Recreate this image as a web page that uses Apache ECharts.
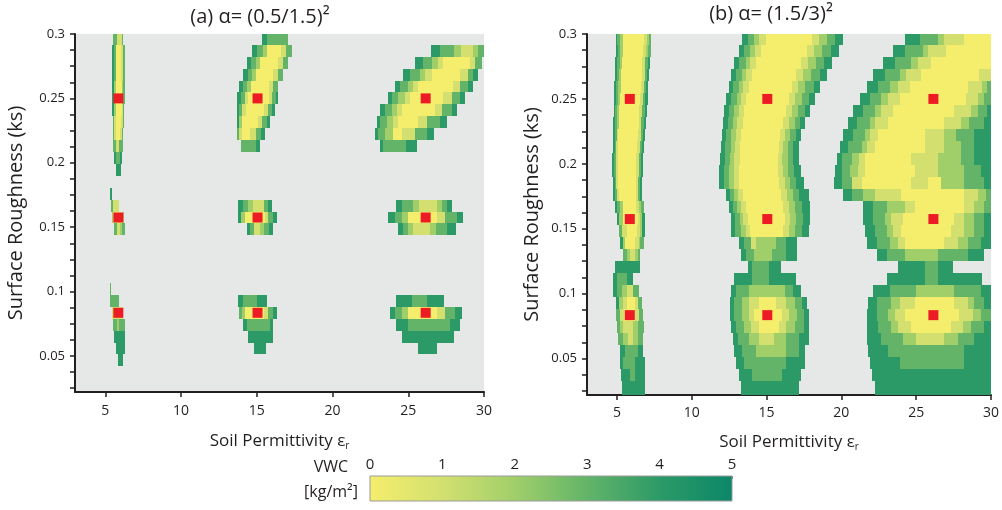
<!DOCTYPE html>
<html>
<head>
<meta charset="utf-8">
<script src="https://cdn.jsdelivr.net/npm/echarts@6/dist/echarts.min.js"></script>
<style>
  html, body { margin: 0; padding: 0; background: #ffffff; }
  #chart { width: 1002px; height: 510px; }
</style>
</head>
<body>
<div id="chart"></div>
<script>
// Row centres of the retrieval grid (surface roughness ks) and the row height.
const ROW_KS = [0.29625, 0.287, 0.27775, 0.2685, 0.25925, 0.25, 0.24075, 0.2315, 0.22225, 0.213,
  0.20375, 0.1945, 0.18525, 0.176, 0.16675, 0.1575, 0.14825, 0.139, 0.12975, 0.1205,
  0.11125, 0.102, 0.09275, 0.0835, 0.07425, 0.065, 0.05575, 0.0465, 0.03725, 0.028, 0.01875];
const ROW_HEIGHT = 0.00925;

// Each row: "eps:VWC" break points, read left to right; "-" marks no retrieval.
const PANEL_A_ROWS = [
  "5.53:3 5.75:1 6.08:3 6.19:- 15.32:4 15.67:3 17.08:-",
  "5.47:4 5.6:3 5.71:0 6.05:1 6.15:3 6.27:- 14.70:4 15.03:3 15.4:2 15.7:0 16.6:1 16.9:3 17.30:- 26.50:4 27.1:3 28.0:2 28.5:1 29.3:2 29.6:3 30:-",
  "5.47:4 5.6:3 5.71:0 6.05:1 6.15:3 6.27:- 14.33:4 14.65:3 14.95:2 15.2:0 16.4:1 16.7:3 17.08:- 25.44:4 26.0:3 26.54:2 26.98:1 27.31:0 29.07:1 29.4:3 29.84:-",
  "5.47:4 5.6:3 5.71:0 6.05:1 6.15:3 6.27:- 14.11:4 14.4:3 14.7:2 14.95:0 16.1:1 16.4:3 16.75:- 24.67:4 25.11:3 25.77:2 26.1:1 26.54:0 28.41:1 28.96:3 29.29:4 29.62:-",
  "5.47:4 5.6:2 5.71:0 6.08:2 6.19:3 6.27:- 13.85:4 14.1:3 14.35:2 14.6:0 15.8:1 16.1:3 16.42:- 24.12:4 24.45:3 25.0:2 25.33:1 25.66:0 27.97:1 28.41:3 28.96:4 29.29:-",
  "5.47:4 5.57:2 5.68:0 6.1:2 6.2:3 6.27:- 13.71:4 13.95:3 14.2:1 14.4:0 15.8:1 16.0:3 16.25:4 16.42:- 23.64:4 23.9:3 24.34:2 24.78:1 25.11:0 27.31:1 27.86:3 28.41:4 28.74:-",
  "5.47:4 5.57:2 5.68:0 6.08:1 6.17:3 6.25:- 13.67:4 13.85:3 14.05:1 14.3:0 15.5:1 15.75:3 16.0:4 16.2:- 23.13:4 23.46:3 23.9:2 24.23:1 24.56:0 26.76:1 27.2:3 27.86:4 28.19:-",
  "5.49:3 5.6:1 5.71:0 6.05:1 6.15:3 6.22:- 13.67:4 13.82:2 14.0:0 15.1:1 15.35:3 15.65:4 15.87:- 22.91:4 23.13:3 23.57:2 24.01:1 24.34:0 25.66:1 26.21:3 27.09:4 27.58:-",
  "5.49:3 5.6:1 5.71:0 6.0:1 6.1:3 6.2:- 13.67:3 13.82:1 14.0:0 14.55:1 14.95:3 15.3:4 15.54:- 22.80:4 23.0:3 23.46:2 24.01:0 24.56:1 25.44:3 26.21:4 26.69:-",
  "5.53:3 5.71:1 5.93:3 6.15:- 13.94:3 14.95:4 15.2:- 23.13:4 23.3:3 24.85:4 25.55:-",
  "5.60:4 5.68:3 5.97:4 6.08:-",
  "5.71:4 6.01:-",
  "",
  "5.31:4 5.42:-",
  "5.38:3 5.53:1 5.93:- 13.74:4 14.11:3 14.45:2 14.75:1 15.45:3 15.75:4 15.98:- 24.19:4 24.6:3 25.33:2 25.7:1 26.9:2 27.2:3 27.53:4 27.86:-",
  "5.46:2 5.53:0 6.15:2 6.22:- 13.78:4 13.95:2 14.2:0 15.55:1 15.75:3 16.05:4 16.31:- 23.68:4 24.1:3 24.56:2 25.0:0 26.9:1 27.4:3 28.19:4 28.59:-",
  "5.6:3 5.75:1 5.95:2 6.08:3 6.3:- 14.33:4 14.55:3 14.8:1 15.2:2 15.45:3 15.8:4 16.1:- 24.34:4 24.67:3 25.0:2 25.33:1 26.43:2 26.8:3 27.53:4 28.15:-",
  "", "", "", "",
  "5.33:3 5.40:-",
  "5.29:3 5.93:- 13.74:4 14.11:3 14.99:4 15.65:- 24.19:4 25.22:3 26.21:4 27.35:-",
  "5.46:1 6.19:- 13.85:3 14.0:2 14.2:0 15.5:1 15.75:3 16.05:4 16.31:- 23.79:4 24.1:3 24.56:2 25.0:0 26.9:1 27.4:3 28.1:4 28.52:-",
  "5.53:3 5.75:2 5.9:3 6.3:- 14.11:4 14.35:3 15.85:4 16.1:- 24.19:4 25.0:3 27.75:4 28.41:-",
  "5.6:4 6.3:- 14.4:4 16.05:- 24.56:4 28.0:-",
  "5.68:4 6.3:- 14.81:4 15.58:- 25.62:4 26.87:-",
  "5.87:4 6.19:-",
  "", "", ""
];

const PANEL_B_ROWS = [
  "4.94:4 5.03:3 5.2:2 5.4:0 6.8:1 7.0:2 7.15:3 7.31:- 13.39:4 13.73:3 14.17:2 14.50:1 14.94:0 18.04:1 18.48:2 19.03:3 19.59:4 20.14:- 24.23:4 25.23:3 26.44:2 26.89:1 28.22:0 30.5:-",
  "4.94:4 5.05:3 5.2:2 5.4:0 6.75:1 6.95:2 7.1:3 7.27:- 13.13:4 13.46:3 13.9:2 14.2:1 14.6:0 17.7:1 18.15:2 18.7:3 19.3:4 19.81:- 23.46:4 24.23:3 25.45:2 25.78:1 27.0:0 30.5:-",
  "4.90:4 5.02:3 5.18:2 5.35:0 6.7:1 6.9:3 7.05:4 7.20:- 12.84:4 13.17:3 13.6:2 13.9:1 14.3:0 17.3:1 17.75:2 18.3:3 18.85:4 19.37:- 22.8:4 23.57:3 24.68:2 25.12:1 26.0:0 30.5:-",
  "4.86:4 5.0:3 5.15:2 5.3:0 6.65:1 6.85:3 7.0:4 7.16:- 12.62:4 12.95:3 13.35:2 13.65:1 14.05:0 17.0:1 17.45:2 18.0:3 18.55:4 19.03:- 22.13:4 22.9:3 23.9:2 24.34:1 25.34:0 29.21:1 30.5:-",
  "4.83:4 4.95:3 5.1:2 5.25:0 6.6:1 6.8:3 6.95:4 7.09:- 12.46:4 12.75:3 13.15:2 13.45:1 13.85:0 16.7:1 17.1:2 17.6:3 18.15:4 18.59:- 21.69:4 22.46:3 23.24:2 23.79:1 24.56:0 28.44:1 29.43:2 29.76:3 30.5:-",
  "4.81:4 4.92:3 5.05:2 5.2:0 6.55:1 6.75:3 6.9:4 7.05:- 12.29:4 12.6:3 13.0:2 13.3:1 13.65:0 16.5:1 16.9:2 17.35:3 17.85:4 18.26:- 21.25:4 21.91:3 22.68:2 23.13:1 23.9:0 28.33:1 29.1:2 29.54:3 30.5:-",
  "4.79:4 4.9:3 5.02:2 5.15:0 6.5:1 6.7:3 6.85:4 6.98:- 12.18:4 12.5:3 12.85:2 13.15:1 13.5:0 16.3:1 16.7:2 17.1:3 17.55:4 17.93:- 20.8:4 21.47:3 22.24:2 22.68:1 23.46:0 27.55:1 28.66:2 29.1:3 29.76:4 30.5:-",
  "4.77:4 4.88:3 5.0:2 5.12:0 6.45:1 6.62:3 6.78:4 6.93:- 12.07:4 12.4:3 12.75:2 13.05:1 13.4:0 16.1:1 16.5:2 16.9:3 17.25:4 17.60:- 20.47:4 21.03:3 21.91:2 22.24:1 23.13:0 26.89:1 27.99:2 28.55:3 29.54:4 30.5:-",
  "4.75:4 4.86:3 4.98:1 5.1:0 6.4:1 6.58:3 6.72:4 6.87:- 12.0:4 12.3:3 12.65:2 12.95:1 13.3:0 15.9:1 16.25:2 16.6:3 16.95:4 17.27:- 20.14:4 20.8:3 21.58:2 21.91:1 22.46:0 25.56:1 26.89:2 27.66:3 28.88:4 30.5:-",
  "4.72:4 4.84:3 4.96:1 5.08:0 6.35:1 6.52:3 6.66:4 6.80:- 11.96:4 12.25:3 12.6:2 12.9:1 13.25:0 15.8:1 16.1:2 16.45:3 16.8:4 17.15:- 19.92:4 20.47:3 21.36:2 21.69:1 22.24:0 25.56:1 26.89:2 27.99:3 28.88:4 30.5:-",
  "4.70:4 4.82:3 4.95:1 5.06:0 6.3:1 6.48:3 6.62:4 6.76:- 11.90:4 12.2:3 12.55:2 12.85:1 13.2:0 15.75:1 16.05:2 16.4:3 16.8:4 17.15:- 19.7:4 20.03:3 20.69:2 21.2:1 21.58:0 24.68:1 26.44:2 27.99:3 28.88:4 30.5:-",
  "4.70:4 4.82:3 4.95:1 5.06:0 6.28:1 6.45:3 6.58:4 6.72:- 11.85:4 12.15:3 12.5:2 12.8:1 13.15:0 15.75:1 16.1:2 16.45:3 16.85:4 17.27:- 19.59:4 20.03:3 20.58:2 21.1:1 21.58:0 24.9:1 26.44:2 28.22:3 29.32:4 30.5:-",
  "4.72:4 4.84:3 4.96:1 5.08:0 6.25:1 6.42:3 6.55:4 6.69:- 11.85:4 12.15:3 12.5:2 12.8:1 13.15:0 15.8:1 16.2:2 16.55:3 17.0:4 17.5:- 19.48:4 20.03:3 20.69:1 21.36:0 24.68:1 25.78:0 26.67:2 28.22:3 29.54:4 30.5:-",
  "4.77:4 4.88:3 5.0:1 5.12:0 6.25:1 6.42:3 6.55:4 6.67:- 12.29:4 12.55:3 12.85:2 13.1:1 13.4:0 15.95:1 16.35:2 16.75:3 17.2:4 17.82:- 20.14:4 20.69:3 21.47:2 22.24:1 24.01:0 28.22:1 29.1:2 29.65:3 30.5:-",
  "4.88:4 4.98:3 5.2:2 5.4:0 6.25:1 6.45:2 6.6:3 6.8:- 12.46:4 12.75:3 13.05:2 13.3:1 13.6:0 16.1:1 16.5:2 16.9:3 17.4:4 17.93:- 21.47:4 22.13:3 23.02:2 24.23:1 24.9:0 28.22:1 28.88:2 29.54:3 30.5:-",
  "4.99:4 5.16:2 5.43:0 6.43:1 6.54:2 6.65:4 6.87:- 12.62:4 12.9:3 13.2:2 13.45:1 13.75:0 16.2:1 16.6:2 17.0:3 17.45:4 17.93:- 21.47:4 22.13:3 22.9:2 23.35:1 24.12:0 27.55:1 28.22:2 28.88:3 29.54:4 30.5:-",
  "5.16:3 5.32:1 5.65:0 6.32:1 6.54:2 6.65:4 6.87:- 12.62:4 12.9:3 13.3:2 13.6:1 13.9:0 16.1:1 16.5:2 16.9:3 17.4:4 17.82:- 21.58:4 22.24:3 23.02:2 23.46:1 24.01:0 27.33:1 28.22:2 28.88:3 29.54:4 30.5:-",
  "5.21:4 5.39:2 5.54:0 6.2:1 6.49:2 6.54:3 6.80:- 13.17:4 13.5:3 13.95:1 14.3:2 15.6:3 16.3:4 17.04:- 21.69:4 22.35:3 23.24:2 23.79:1 24.23:0 26.89:1 27.77:2 28.44:3 29.32:4 30.5:-",
  "5.43:3 5.65:2 5.87:1 6.2:2 6.43:3 6.54:- 13.28:4 13.62:3 14.17:2 15.38:3 16.27:4 17.04:- 22.35:4 23.02:3 24.23:2 26.44:3 28.44:4 29.54:-",
  "4.88:4 6.54:- 13.73:4 14.06:3 15.16:4 15.94:- 23.79:4 25.56:3 26.44:4 27.44:-",
  "4.77:4 4.99:3 5.65:4 6.09:- 12.85:4 14.06:3 15.16:4 17.0:- 23.02:4 25.56:3 26.44:4 29.4:-",
  "4.77:4 4.99:3 5.32:2 5.65:1 6.09:3 6.49:- 12.62:4 12.95:3 13.84:2 16.2:3 16.75:4 17.33:- 22.13:4 23.24:3 25.01:2 27.55:3 29.32:4 30.5:-",
  "4.94:4 5.16:2 5.39:1 5.65:0 6.2:1 6.43:3 6.65:- 12.55:4 12.84:3 13.39:2 13.84:1 14.5:0 15.61:1 16.27:2 16.93:3 17.38:4 17.71:- 21.8:4 22.35:3 23.35:2 23.9:1 24.9:0 27.55:1 28.44:2 28.88:3 29.54:4 30.5:-",
  "4.94:3 5.21:1 5.5:0 6.2:1 6.49:3 6.76:- 12.55:4 12.84:3 13.39:2 13.84:1 14.17:0 16.05:1 16.49:2 17.04:3 17.49:4 17.82:- 21.69:4 22.35:3 23.13:2 23.57:1 24.23:0 27.88:1 28.77:2 29.32:3 30.5:-",
  "5.03:3 5.21:2 5.43:1 6.09:2 6.43:3 6.80:- 12.62:4 12.95:3 13.5:2 13.95:1 14.5:0 15.83:1 16.27:2 16.93:3 17.49:4 17.82:- 21.69:4 22.46:3 23.35:2 23.79:1 24.68:0 27.33:1 28.11:2 28.66:3 29.54:4 30.5:-",
  "5.10:3 5.43:2 5.76:1 6.09:2 6.43:3 6.76:- 12.73:4 13.06:3 13.8:2 14.5:1 15.5:2 16.27:3 17.15:4 17.82:- 21.69:4 22.68:3 24.12:2 25.01:1 26.89:2 27.77:3 28.88:4 30.5:-",
  "5.21:4 5.54:3 6.43:4 6.76:- 12.84:4 13.39:3 14.28:2 16.27:3 17.15:4 17.60:- 21.8:4 23.13:3 28.22:4 30.5:-",
  "5.21:4 5.43:3 6.2:4 6.87:- 12.95:4 13.5:3 16.27:4 17.60:- 21.91:4 23.9:3 28.22:4 30.5:-",
  "5.25:4 5.87:3 6.2:4 6.87:- 13.17:4 14.06:3 16.05:4 17.27:- 22.02:4 30.5:-",
  "5.32:4 6.87:- 13.28:4 17.20:- 22.24:4 30.5:-",
  "5.32:4 6.87:- 13.28:4 17.20:- 22.24:4 30.5:-"
];

// True soil states (red markers): permittivity and roughness.
const TARGET_EPS = [5.86, 15.05, 26.15];
const TARGET_KS = [0.25, 0.1575, 0.0835];

// Axis ticks and labels.
const X_TICKS = [5, 10, 15, 20, 25, 30];
const Y_LABELS = [0.05, 0.1, 0.15, 0.2, 0.25, 0.3];
const Y_TICKS = [0.025, 0.0375, 0.05, 0.0625, 0.075, 0.0875, 0.1, 0.1125, 0.125, 0.1375, 0.15,
  0.1625, 0.175, 0.1875, 0.2, 0.2125, 0.225, 0.2375, 0.25, 0.2625, 0.275, 0.2875, 0.3];
const VWC_TICKS = [0, 1, 2, 3, 4, 5];
const VWC_COLORS = ['#f4ee6c', '#d3e070', '#a0cf6a', '#63b469', '#2c9a67', '#0b8768'];

const TITLES = ['(a) α= (0.5/1.5)²', '(b) α= (1.5/3)²'];
const X_NAME = 'Soil Permittivity ε{sub|r}';
const Y_NAME = 'Surface Roughness (ks)';

const FONT = "'Open Sans', 'Noto Sans', sans-serif";
const INK = '#231f20';

function parseRows(rows) {
  const cells = [];
  rows.forEach((row, i) => {
    if (!row) return;
    const toks = row.trim().split(/\s+/).map(t => t.split(':'));
    for (let k = 0; k < toks.length - 1; k++) {
      if (toks[k][1] === '-') continue;
      cells.push([+toks[k][0], +toks[k + 1][0], ROW_KS[i], +toks[k][1]]);
    }
  });
  return cells;
}

function renderCell(params, api) {
  const ks = api.value(2);
  const p0 = api.coord([api.value(0), ks + ROW_HEIGHT / 2]);
  const p1 = api.coord([api.value(1), ks - ROW_HEIGHT / 2]);
  const x0 = Math.round(p0[0]), x1 = Math.round(p1[0]);
  const y0 = Math.round(p0[1]), y1 = Math.round(p1[1]);
  const cs = params.coordSys;
  const shape = echarts.graphic.clipRectByRect(
    { x: x0, y: y0, width: x1 - x0, height: y1 - y0 },
    { x: cs.x, y: cs.y, width: cs.width, height: cs.height });
  if (!shape) return null;
  return { type: 'rect', shape: shape, style: { fill: api.visual('color') } };
}

function renderColorbar(params, api) {
  const p0 = api.coord([api.value(0), 1]);
  const p1 = api.coord([api.value(1), 0]);
  const stops = VWC_COLORS.map((c, i) => ({ offset: i / (VWC_COLORS.length - 1), color: c }));
  return {
    type: 'rect',
    shape: { x: p0[0], y: p0[1], width: p1[0] - p0[0], height: p1[1] - p0[1] },
    style: {
      fill: new echarts.graphic.LinearGradient(0, 0, 1, 0, stops),
      stroke: '#9b9b9b', lineWidth: 1
    }
  };
}

const targets = [];
TARGET_KS.forEach(k => TARGET_EPS.forEach(e => targets.push([e, k])));

const grids = [
  { left: 75, top: 34, width: 409, height: 358 },
  { left: 587, top: 34, width: 406, height: 361 }
];

function xAxisFor(i, gap, margin) {
  return {
    gridIndex: i, type: 'value', min: 3, max: 30,
    name: X_NAME, nameLocation: 'middle', nameGap: gap,
    nameTextStyle: {
      fontFamily: FONT, fontSize: 17, color: INK,
      rich: { sub: { fontFamily: FONT, fontSize: 10, color: INK, verticalAlign: 'bottom', padding: [10, 0, 0, 0] } }
    },
    axisLine: { onZero: false, lineStyle: { color: INK, width: 2 } },
    axisTick: { length: 5, lineStyle: { color: INK, width: 1.5 }, customValues: X_TICKS },
    axisLabel: { fontFamily: FONT, fontSize: 14, color: INK, margin: margin, customValues: X_TICKS },
    splitLine: { show: false }
  };
}

function yAxisFor(i, gap) {
  return {
    gridIndex: i, type: 'value', min: 0.022, max: 0.3,
    name: Y_NAME, nameLocation: 'middle', nameGap: gap, nameRotate: 90,
    nameTextStyle: { fontFamily: FONT, fontSize: 20, color: INK },
    axisLine: { onZero: false, lineStyle: { color: INK, width: 2 } },
    axisTick: { length: 5, lineStyle: { color: INK, width: 1.5 }, customValues: Y_TICKS },
    axisLabel: { fontFamily: FONT, fontSize: 13, color: INK, margin: 10, customValues: Y_LABELS },
    splitLine: { show: false }
  };
}

const option = {
  animation: false,
  backgroundColor: '#ffffff',
  grid: [
    Object.assign({ show: true, backgroundColor: '#e6e7e7', borderWidth: 0 }, grids[0]),
    Object.assign({ show: true, backgroundColor: '#e6e7e7', borderWidth: 0 }, grids[1]),
    { left: 370, top: 476, width: 362, height: 25 }
  ],
  xAxis: [
    xAxisFor(0, 39, 12),
    xAxisFor(1, 37, 11),
    {
      gridIndex: 2, type: 'value', min: 0, max: 5, position: 'top',
      axisLine: { show: false, onZero: false },
      axisTick: { inside: true, length: 3, lineStyle: { color: '#666' }, customValues: VWC_TICKS },
      axisLabel: { fontFamily: FONT, fontSize: 15, color: INK, margin: 4, customValues: VWC_TICKS },
      splitLine: { show: false }
    }
  ],
  yAxis: [
    yAxisFor(0, 49),
    yAxisFor(1, 45),
    { gridIndex: 2, type: 'value', min: 0, max: 1, show: false }
  ],
  visualMap: {
    type: 'continuous', show: false, min: 0, max: 5, dimension: 3,
    seriesIndex: [0, 1], inRange: { color: VWC_COLORS }
  },
  graphic: [
    { type: 'text', x: 260, y: 17, style: { text: TITLES[0], font: '20px ' + FONT, fill: INK, textAlign: 'center', textVerticalAlign: 'middle' } },
    { type: 'text', x: 771, y: 14, style: { text: TITLES[1], font: '20px ' + FONT, fill: INK, textAlign: 'center', textVerticalAlign: 'middle' } },
    { type: 'text', x: 331, y: 467, style: { text: 'VWC', font: '16px ' + FONT, fill: INK, textAlign: 'center', textVerticalAlign: 'middle' } },
    { type: 'text', x: 331, y: 492, style: { text: '[kg/m²]', font: '16px ' + FONT, fill: INK, textAlign: 'center', textVerticalAlign: 'middle' } }
  ],
  series: [
    { type: 'custom', xAxisIndex: 0, yAxisIndex: 0, renderItem: renderCell, data: parseRows(PANEL_A_ROWS), encode: { x: [0, 1], y: 2 }, clip: true, silent: true },
    { type: 'custom', xAxisIndex: 1, yAxisIndex: 1, renderItem: renderCell, data: parseRows(PANEL_B_ROWS), encode: { x: [0, 1], y: 2 }, clip: true, silent: true },
    { type: 'scatter', xAxisIndex: 0, yAxisIndex: 0, symbol: 'rect', symbolSize: 10, itemStyle: { color: '#ed1c24', opacity: 1 }, data: targets, z: 5, silent: true },
    { type: 'scatter', xAxisIndex: 1, yAxisIndex: 1, symbol: 'rect', symbolSize: 10, itemStyle: { color: '#ed1c24', opacity: 1 }, data: targets, z: 5, silent: true },
    { type: 'custom', xAxisIndex: 2, yAxisIndex: 2, renderItem: renderColorbar, data: [[0, 5]], encode: { x: [0, 1] }, silent: true }
  ]
};

const chart = echarts.init(document.getElementById('chart'), null, { renderer: 'canvas' });
chart.setOption(option);
</script>
</body>
</html>
